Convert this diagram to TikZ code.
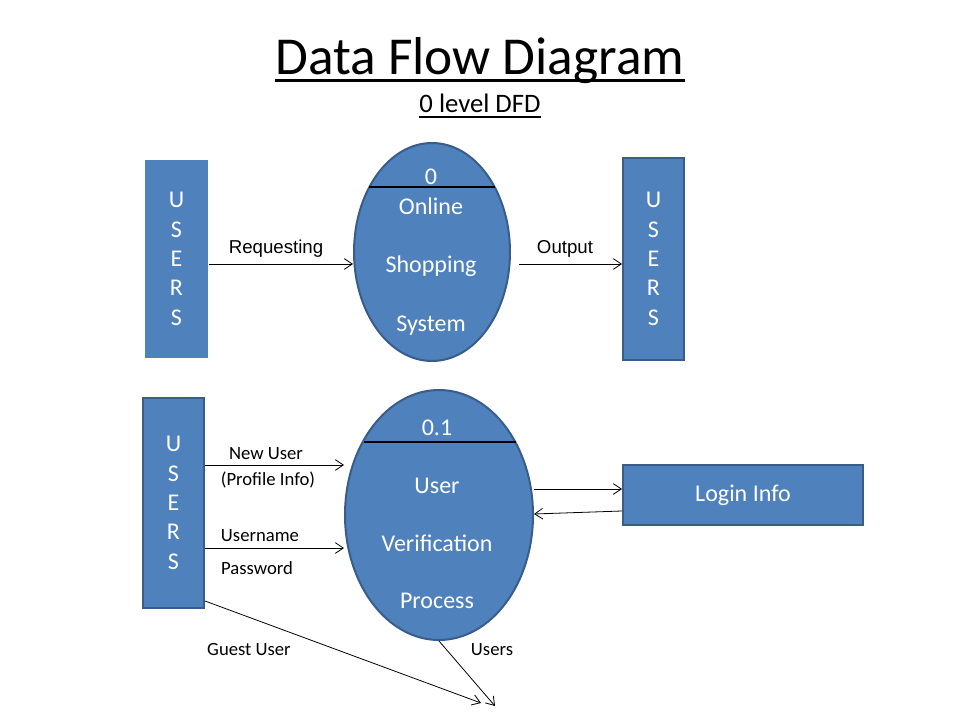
\documentclass[tikz,border=0pt]{standalone}
\usepackage{fontspec}
\setmainfont{Carlito}
\newfontfamily\arialfont{Liberation Sans}
\usetikzlibrary{arrows.meta,shapes.geometric}
\definecolor{boxblue}{HTML}{4F81BD}
\definecolor{boxedge}{HTML}{385D8A}

\begin{document}
\begin{tikzpicture}[x=0.75pt,y=-0.75pt,
    entity/.style={fill=boxblue,draw=boxedge,line width=1.5pt,text=white,align=center,
      inner sep=0pt,font=\fontsize{18}{22}\selectfont},
    process/.style={ellipse,fill=boxblue,draw=boxedge,line width=1.5pt,inner sep=0pt},
    ptext/.style={text=white,anchor=base,font=\fontsize{18}{22}\selectfont},
    flow/.style={-{Straight Barb[length=6pt,width=8pt]},line width=0.6pt},
    flowlabel/.style={anchor=base,font=\fontsize{14}{16}\selectfont},
    divider/.style={line width=1.2pt,black}]
    \useasboundingbox (0,0) rectangle (960,720);

    \node (title) at (480,75) [anchor=base,inner sep=0pt,font=\fontsize{40}{44}\selectfont] {Data Flow Diagram};
    \draw[line width=2.2pt] ([yshift=-4pt]title.base west) -- ([yshift=-4pt]title.base east);
    \node (subtitle) at (480,113) [anchor=base,inner sep=0pt,font=\fontsize{20}{24}\selectfont] {0 level DFD};
    \draw[line width=1.3pt] ([yshift=-3pt]subtitle.base west) -- ([yshift=-3pt]subtitle.base east);

    % level 0
    \node (usrA) at (176.5,259) [entity,draw=none,minimum width=47pt,minimum height=148.5pt] {U\\S\\E\\R\\S};
    \node (usrB) at (653.5,259) [entity,minimum width=45.75pt,minimum height=151.5pt] {U\\S\\E\\R\\S};
    \node (p0) at (432,252) [process,minimum width=117pt,minimum height=163.5pt] {};
    \draw[divider] ([shift={(-63,-65)}]p0.center) -- ([shift={(63,-65)}]p0.center);
    \node (p0num) at (431,185) [ptext] {0};
    \node (p0a) at (431,215) [ptext] {Online};
    \node (p0b) at (431,273) [ptext] {Shopping};
    \node (p0c) at (431,331) [ptext] {System};

    \node (reqlbl) at (276,254) [flowlabel,font=\arialfont\fontsize{14}{16}\selectfont] {Requesting};
    \node (outlbl) at (565,254) [flowlabel,font=\arialfont\fontsize{14}{16}\selectfont] {Output};

    % level 0.1
    \node (usrC) at (173.5,503) [entity,minimum width=45.75pt,minimum height=157.5pt] {U\\S\\E\\R\\S};
    \node (login) at (743,495) [entity,minimum width=180pt,minimum height=45pt] {Login Info};
    \node (p1) at (439,515) [process,minimum width=141pt,minimum height=187.5pt] {};
    \draw[divider] ([shift={(-75,-73)}]p1.center) -- ([shift={(77,-73)}]p1.center);
    \node (p1num) at (437,435) [ptext] {0.1};
    \node (p1a) at (437,493) [ptext] {User};
    \node (p1b) at (437,551) [ptext] {Verification};
    \node (p1c) at (437,608) [ptext] {Process};

    \node (newlbl) at (266,459) [flowlabel] {New User};
    \node (proflbl) at (268,485) [flowlabel] {(Profile Info)};
    \node (unamelbl) at (260,541) [flowlabel] {Username};
    \node (pwdlbl) at (257,574) [flowlabel] {Password};
    \node (guestlbl) at (249,655) [flowlabel] {Guest User};
    \node (userslbl) at (492,655) [flowlabel] {Users};

    \coordinate (guestend) at (481,703);
    \coordinate (usersend) at (495,706);

    \draw[flow] (usrA.east |- 0,264) to (p0.west |- 0,264);
    \draw[flow,shorten <=6pt] (p0.east |- 0,264) to (usrB.west |- 0,264);

    \draw[flow] (usrC.east |- 0,465) to (p1.west |- 0,465);
    \draw[flow] (usrC.east |- 0,548) to (p1.west |- 0,548);
    \draw[flow] (p1.east |- 0,489) to (login.west |- 0,489);
    \draw[flow] (login.west |- 0,511) to (p1.east |- 0,514);
    \draw[flow] (usrC.east |- 0,601) to (guestend);
    \draw[flow] (p1.south) to (usersend);
  \end{tikzpicture}
\end{document}
